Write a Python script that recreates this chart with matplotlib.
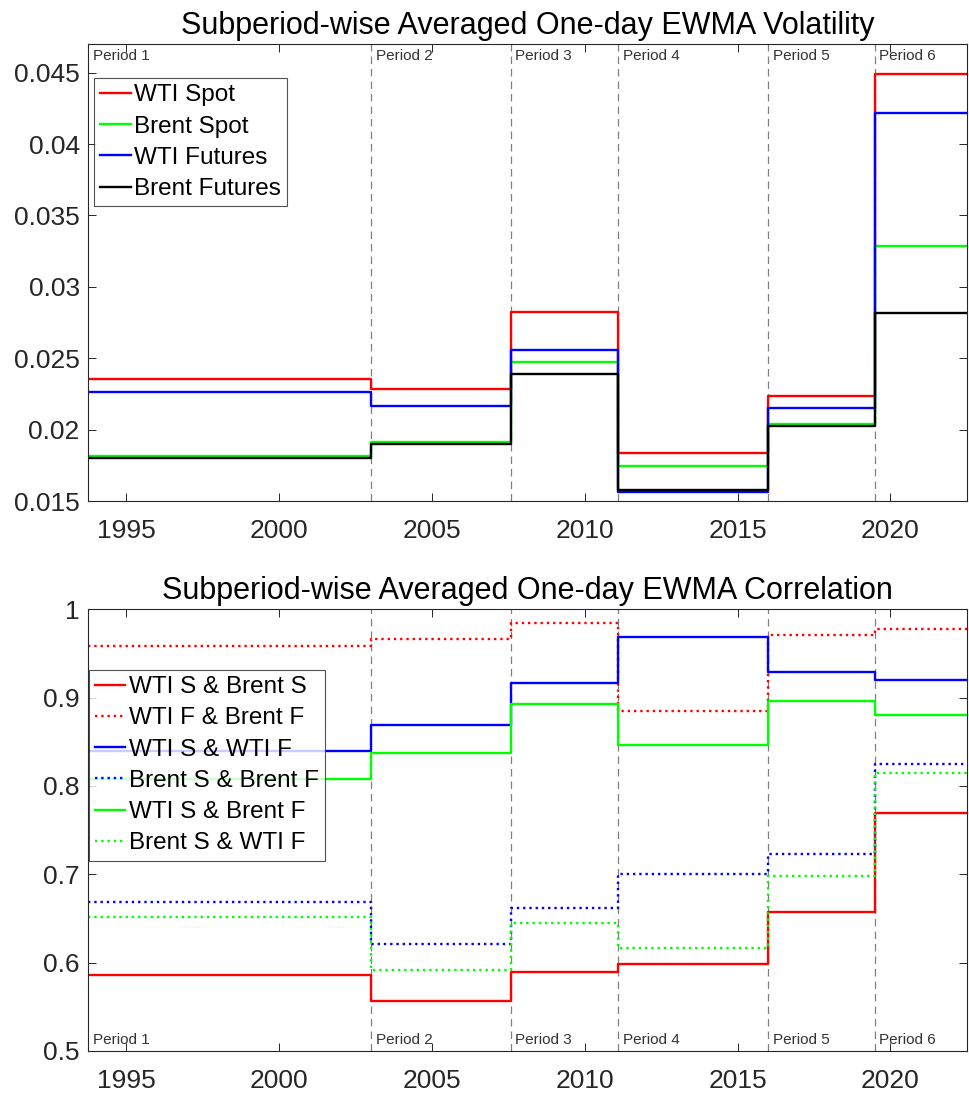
import numpy as np
import matplotlib
matplotlib.use("Agg")
import matplotlib.pyplot as plt
from matplotlib.ticker import FuncFormatter

plt.rcParams["font.family"] = ["Liberation Sans", "DejaVu Sans"]

# period boundaries (decimal years): start, 5 breaks, end
EDGES = [1993.74, 2003.0, 2007.57, 2011.09, 2016.0, 2019.49, 2022.5]
PERIODS = ["Period 1", "Period 2", "Period 3", "Period 4", "Period 5", "Period 6"]

# subperiod-averaged volatility
VOL_WTI_S = [0.02354, 0.02286, 0.02821, 0.01839, 0.02236, 0.04490]
VOL_BRENT_S = [0.01816, 0.01912, 0.02477, 0.01745, 0.02040, 0.03289]
VOL_WTI_F = [0.02262, 0.02166, 0.02557, 0.01563, 0.02154, 0.04219]
VOL_BRENT_F = [0.01804, 0.01900, 0.02389, 0.01575, 0.02026, 0.02817]

# subperiod-averaged correlation
COR_WS_BS = [0.586, 0.556, 0.589, 0.5985, 0.657, 0.769]
COR_WF_BF = [0.9587, 0.9667, 0.9848, 0.8845, 0.9708, 0.9773]
COR_WS_WF = [0.8394, 0.8686, 0.9159, 0.9682, 0.9284, 0.9197]
COR_BS_BF = [0.6682, 0.6216, 0.6621, 0.7004, 0.7227, 0.8242]
COR_WS_BF = [0.8083, 0.8367, 0.8928, 0.8462, 0.8966, 0.8799]
COR_BS_WF = [0.6519, 0.5913, 0.6447, 0.6163, 0.6981, 0.8144]

RED, GREEN, BLUE, BLACK = "#ff0000", "#00ff00", "#0000ff", "#000000"
AX_C = "#262626"


def stairs(ax, vals, **kw):
    y = list(vals) + [vals[-1]]
    ax.step(EDGES, y, where="post", lw=1.7, **kw)


def style(ax, ylim, yticks, label_top):
    ax.set_xlim(EDGES[0], EDGES[-1])
    ax.set_ylim(*ylim)
    ax.set_xticks([1995, 2000, 2005, 2010, 2015, 2020])
    ax.set_yticks(yticks)
    ax.yaxis.set_major_formatter(FuncFormatter(lambda v, p: f"{v:g}"))
    ax.tick_params(direction="in", top=True, right=True, length=6, width=0.7,
                   labelsize=19, colors=AX_C, pad=6)
    ax.tick_params(axis="x", pad=13)
    for s in ax.spines.values():
        s.set_color(AX_C); s.set_linewidth(0.8)
    for b in EDGES[1:-1]:
        ax.axvline(b, color="0.5", ls=(0, (6, 4)), lw=0.9, zorder=0)
    for x0, name in zip(EDGES[:-1], PERIODS):
        if label_top:
            ax.text(x0 + 0.15, 0.99, name, transform=ax.get_xaxis_transform(),
                    va="top", ha="left", fontsize=11, color="#333333")
        else:
            ax.text(x0 + 0.15, 0.01, name, transform=ax.get_xaxis_transform(),
                    va="bottom", ha="left", fontsize=11, color="#333333")


def legend(ax, anchor):
    leg = ax.legend(loc="upper left", bbox_to_anchor=anchor, fontsize=17.5,
                    frameon=True, fancybox=False, handlelength=1.25,
                    handletextpad=0.15, borderpad=0.25, labelspacing=0.38,
                    borderaxespad=0)
    leg.get_frame().set_edgecolor(AX_C)
    leg.get_frame().set_linewidth(0.8)


fig = plt.figure(figsize=(9.69, 11.10), dpi=100)
ax1 = fig.add_axes([0.0908, 0.5486, 0.907, 0.4117])
ax2 = fig.add_axes([0.0908, 0.0532, 0.907, 0.398])

stairs(ax1, VOL_WTI_S, color=RED, label="WTI Spot")
stairs(ax1, VOL_BRENT_S, color=GREEN, label="Brent Spot")
stairs(ax1, VOL_WTI_F, color=BLUE, label="WTI Futures")
stairs(ax1, VOL_BRENT_F, color=BLACK, label="Brent Futures")
style(ax1, (0.015, 0.047), [0.015, 0.02, 0.025, 0.03, 0.035, 0.04, 0.045], True)
ax1.set_title("Subperiod-wise Averaged One-day EWMA Volatility", fontsize=22, pad=7)
legend(ax1, (0.007, 0.925))

stairs(ax2, COR_WS_BS, color=RED, label="WTI S & Brent S")
stairs(ax2, COR_WF_BF, color=RED, ls=":", label="WTI F & Brent F")
stairs(ax2, COR_WS_WF, color=BLUE, label="WTI S & WTI F")
stairs(ax2, COR_BS_BF, color=BLUE, ls=":", label="Brent S & Brent F")
stairs(ax2, COR_WS_BF, color=GREEN, label="WTI S & Brent F")
stairs(ax2, COR_BS_WF, color=GREEN, ls=":", label="Brent S & WTI F")
style(ax2, (0.5, 1.0), [0.5, 0.6, 0.7, 0.8, 0.9, 1.0], False)
ax2.set_title("Subperiod-wise Averaged One-day EWMA Correlation", fontsize=22, pad=7)
legend(ax2, (0.001, 0.862))

fig.savefig("out.png", dpi=100)
